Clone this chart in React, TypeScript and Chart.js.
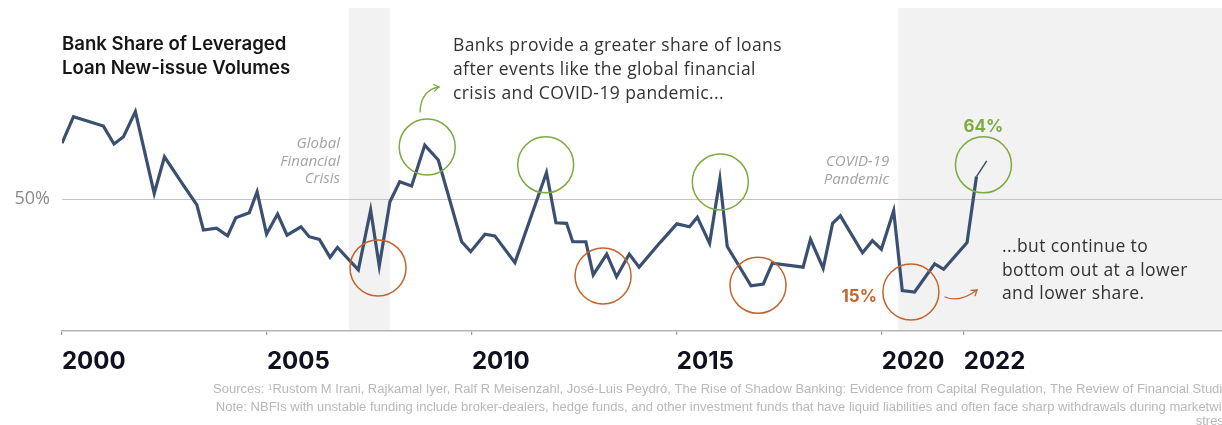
import React, { useEffect, useRef } from "react";
import { Chart, registerables } from "chart.js";

Chart.register(...registerables);

// ---- data ----
const years = [
  2000.0, 2000.28, 2001.01, 2001.27, 2001.5, 2001.79, 2002.25, 2002.5, 2002.96, 2003.29,
  2003.45, 2003.77, 2004.04, 2004.24, 2004.57, 2004.76, 2004.99, 2005.26, 2005.49, 2005.83,
  2006.03, 2006.28, 2006.54, 2006.72, 2007.23, 2007.53, 2007.74, 2008.0, 2008.24, 2008.53,
  2008.85, 2009.18, 2009.75, 2009.97, 2010.32, 2010.56, 2011.05, 2011.82, 2012.05, 2012.31,
  2012.46, 2012.78, 2012.96, 2013.29, 2013.53, 2013.84, 2014.08, 2014.59, 2015.0, 2015.31,
  2015.5, 2015.8, 2016.05, 2016.23, 2016.81, 2017.11, 2017.33, 2018.08, 2018.26, 2018.57,
  2018.8, 2018.99, 2019.53, 2019.77, 2019.99, 2020.29, 2020.5, 2020.8, 2021.29, 2021.51,
  2022.08, 2022.31, 2022.56,
];
const bankShare = [
  71.0, 80.9, 77.4, 70.7, 73.4, 82.8, 52.2, 65.9, 55.3, 47.9,
  38.5, 39.2, 36.3, 43.1, 45.0, 52.8, 37.0, 44.5, 36.6, 39.7,
  36.0, 35.0, 28.3, 32.0, 23.6, 46.0, 25.0, 49.1, 56.6, 55.0,
  70.3, 64.7, 34.1, 30.4, 36.9, 36.3, 26.3, 60.0, 41.2, 41.0,
  34.1, 34.1, 21.7, 29.5, 21.0, 29.5, 24.6, 33.8, 40.8, 39.7,
  43.3, 33.5, 57.5, 32.3, 17.6, 18.3, 26.1, 24.6, 35.0, 24.2,
  41.0, 43.8, 30.0, 34.5, 31.3, 45.7, 15.8, 15.3, 25.8, 23.8,
  33.8, 58.5, 64.4,
];
const axisYears = [2000, 2005, 2010, 2015, 2020, 2022];
const referenceLevels = [50];
const peakYears = [2008.91, 2011.8, 2016.06, 2022.48];
const peakValues = [69.6, 62.9, 56.5, 62.9];
const troughYears = [2007.71, 2013.2, 2016.98, 2020.71];
const troughValues = [24.3, 21.3, 17.8, 15.3];
const crisisStart = [2007.0, 2020.4];
const crisisEnd = [2008.0, 2028.3];
const crisisLabels = [["Global", "Financial", "Crisis"], ["COVID-19", "Pandemic"]];
const latestLabel = "64%";
const pandemicLowLabel = "15%";
const titleLines = ["Bank Share of Leveraged", "Loan New-issue Volumes"];
const noteTop = [
  "Banks provide a greater share of loans",
  "after events like the global financial",
  "crisis and COVID-19 pandemic...",
];
const noteBottom = ["...but continue to", "bottom out at a lower", "and lower share."];
const sourceLines = [
  "Sources: \u00B9Rustom M Irani, Rajkamal Iyer, Ralf R Meisenzahl, Jos\u00E9-Luis Peydr\u00F3, The Rise of Shadow Banking: Evidence from Capital Regulation, The Review of Financial Studies",
  "Note: NBFIs with unstable funding include broker-dealers, hedge funds, and other investment funds that have liquid liabilities and often face sharp withdrawals during marketwide",
  "stress.",
];

const LINE = "#3b5070";
const GREEN = "#7cab42";
const ORANGE = "#c2652d";

function arrow(ctx: CanvasRenderingContext2D, pts: number[][], color: string) {
  const [a, c, b] = pts;
  ctx.save();
  ctx.strokeStyle = color;
  ctx.lineWidth = 1.3;
  ctx.lineCap = "round";
  ctx.beginPath();
  ctx.moveTo(a[0], a[1]);
  ctx.quadraticCurveTo(c[0], c[1], b[0], b[1]);
  ctx.stroke();
  const ang = Math.atan2(b[1] - c[1], b[0] - c[0]);
  const len = 6;
  ctx.beginPath();
  ctx.moveTo(b[0] - len * Math.cos(ang - 0.6), b[1] - len * Math.sin(ang - 0.6));
  ctx.lineTo(b[0], b[1]);
  ctx.lineTo(b[0] - len * Math.cos(ang + 0.6), b[1] - len * Math.sin(ang + 0.6));
  ctx.stroke();
  ctx.restore();
}

const decorPlugin = {
  id: "decor",
  beforeDraw(chart: any) {
    const { ctx, chartArea, scales } = chart;
    const x = scales.x;
    ctx.save();
    ctx.fillStyle = "#f2f2f2";
    for (let i = 0; i < crisisStart.length; i++) {
      const l = x.getPixelForValue(crisisStart[i]);
      const r = Math.min(x.getPixelForValue(crisisEnd[i]), chartArea.right);
      ctx.fillRect(l, chartArea.top, r - l, chartArea.bottom - chartArea.top);
    }
    ctx.restore();
  },
  afterDraw(chart: any) {
    const { ctx, scales } = chart;
    const x = scales.x;
    const y = scales.y;
    ctx.save();

    // circles
    ctx.lineWidth = 1.5;
    ctx.strokeStyle = GREEN;
    for (let i = 0; i < peakYears.length; i++) {
      ctx.beginPath();
      ctx.arc(x.getPixelForValue(peakYears[i]), y.getPixelForValue(peakValues[i]), 28, 0, Math.PI * 2);
      ctx.stroke();
    }
    ctx.strokeStyle = ORANGE;
    for (let i = 0; i < troughYears.length; i++) {
      ctx.beginPath();
      ctx.arc(x.getPixelForValue(troughYears[i]), y.getPixelForValue(troughValues[i]), 28, 0, Math.PI * 2);
      ctx.stroke();
    }

    // title
    ctx.fillStyle = "#161616";
    ctx.font = "600 18.6px Inter";
    ctx.textAlign = "left";
    ctx.textBaseline = "alphabetic";
    ctx.fillText(titleLines[0], 62, 50);
    ctx.fillText(titleLines[1], 62, 74);

    // notes
    ctx.fillStyle = "#333333";
    ctx.font = "17.5px 'Open Sans'";
    (ctx as any).letterSpacing = "0.4px";
    noteTop.forEach((t, i) => ctx.fillText(t, 453, 51 + i * 24));
    noteBottom.forEach((t, i) => ctx.fillText(t, 1002, 252 + i * 23.5));
    (ctx as any).letterSpacing = "0px";

    // crisis labels
    ctx.fillStyle = "#a3a3a3";
    ctx.font = "italic 15px 'Open Sans'";
    ctx.textAlign = "right";
    const baseYs = [148, 166];
    crisisLabels.forEach((lines, i) => {
      const px = x.getPixelForValue(crisisStart[i]) - 9;
      lines.forEach((t, j) => ctx.fillText(t, px, baseYs[i] + j * 17.5));
    });

    // value labels
    ctx.font = "bold 17px Inter";
    ctx.textAlign = "center";
    ctx.fillStyle = GREEN;
    ctx.fillText(latestLabel, x.getPixelForValue(peakYears[3]), 132);
    ctx.fillStyle = ORANGE;
    ctx.textAlign = "right";
    ctx.fillText(pandemicLowLabel, 877, 302);

    // arrows
    arrow(ctx, [[420, 112], [421, 90], [439, 87]], GREEN);
    arrow(ctx, [[945, 297], [960, 303], [977, 290]], ORANGE);

    // sources: sized so the first line runs from its left start to just past the right edge
    const right = 1236;
    ctx.font = "12px 'Liberation Sans'";
    const w = ctx.measureText(sourceLines[0]).width;
    const size = (12 * (right - 213)) / w;
    ctx.fillStyle = "#b8b8b8";
    ctx.font = `${size.toFixed(2)}px 'Liberation Sans'`;
    ctx.textAlign = "right";
    ctx.fillText(sourceLines[0], right, 393);
    ctx.fillText(sourceLines[1], right, 411);
    ctx.fillText(sourceLines[2], right - 2, 425);

    ctx.restore();
  },
};

export default function App() {
  const ref = useRef<HTMLCanvasElement | null>(null);
  useEffect(() => {
    if (!ref.current) return;
    const chart = new Chart(ref.current, {
      type: "line",
      data: {
        datasets: [
          {
            label: "Bank share",
            data: years.map((yr, i) => ({ x: yr, y: bankShare[i] })),
            borderColor: LINE,
            borderWidth: 3.2,
            pointRadius: 0,
            tension: 0,
            segment: {
              borderWidth: (c: any) => (c.p1DataIndex === years.length - 1 ? 1.5 : undefined),
            },
          },
        ],
      },
      options: {
        animation: false,
        responsive: false,
        devicePixelRatio: 1,
        layout: { padding: { top: 8, left: 0, right: 0, bottom: 0 } },
        plugins: { legend: { display: false }, tooltip: { enabled: false } },
        scales: {
          x: {
            type: "linear",
            min: 2000,
            max: 2028.3,
            afterBuildTicks: (s: any) => {
              s.ticks = axisYears.map((v) => ({ value: v }));
            },
            afterFit: (s: any) => {
              s.height = 94;
              s.paddingLeft = 0;
              s.paddingRight = 0;
            },
            ticks: {
              align: "start",
              autoSkip: false,
              maxRotation: 0,
              padding: 12,
              color: "#10101e",
              font: { family: "Inter", weight: "bold", size: 24 },
              callback: (v: any) => String(v),
            },
            grid: { drawOnChartArea: false, drawTicks: true, tickLength: 4, color: "#9a9a9a", lineWidth: 1.2 },
            border: { color: "#b5b5b5", width: 1.5 },
          },
          y: {
            min: 0.7,
            max: 121.6,
            afterBuildTicks: (s: any) => {
              s.ticks = referenceLevels.map((v) => ({ value: v }));
            },
            afterFit: (s: any) => {
              s.width = 62;
              s.paddingTop = 0;
              s.paddingBottom = 0;
            },
            ticks: {
              padding: 12,
              color: "#8a8a8a",
              font: { family: "Open Sans", size: 18 },
              callback: (v: any) => `${v}%`,
            },
            grid: { color: "#c4c4c4", lineWidth: 1, drawTicks: false },
            border: { display: false },
          },
        },
      },
      plugins: [decorPlugin],
    } as any);
    return () => chart.destroy();
  }, []);
  return (
    <div style={{ position: "absolute", left: 0, top: 0, width: 1222, height: 425, background: "#fff" }}>
      <canvas ref={ref} width={1222} height={425} style={{ width: 1222, height: 425 }} />
    </div>
  );
}
